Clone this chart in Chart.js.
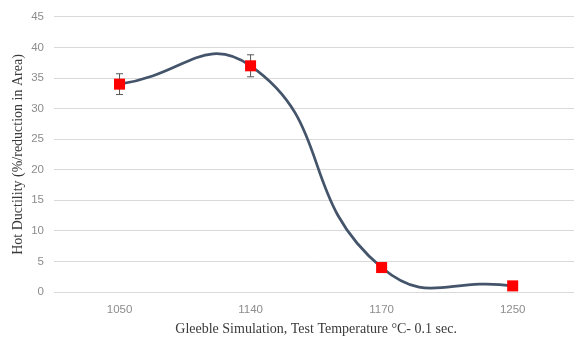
<!DOCTYPE html>
<html>
<head>
<meta charset="utf-8">
<script src="https://cdn.jsdelivr.net/npm/chart.js@4"></script>
<style>
    html, body { margin: 0; padding: 0; background: #fff; overflow: hidden; }
    #ductility-chart { display: block; }
</style>
</head>
<body>
<canvas id="ductility-chart" width="586" height="338"></canvas>
<script>
// values
const temperatures = ['1050', '1140', '1170', '1250'];
const ductility = [34, 37, 4, 1];
const errorBars = [1.7, 1.8, 0, 0];
const yTicks = [0, 5, 10, 15, 20, 25, 30, 35, 40, 45];

// small plugin: vertical error bars with caps, placed through the chart scales
const errorBarPlugin = {
    id: 'errorBars',
    beforeDatasetsDraw(chart) {
        const ctx = chart.ctx;
        const x = chart.scales.x;
        const y = chart.scales.y;
        ctx.save();
        ctx.strokeStyle = '#595959';
        ctx.lineWidth = 1;
        ductility.forEach((v, i) => {
            if (!errorBars[i]) return;
            const px = x.getPixelForValue(i);
            const top = y.getPixelForValue(v + errorBars[i]);
            const bottom = y.getPixelForValue(v - errorBars[i]);
            ctx.beginPath();
            ctx.moveTo(px, top);
            ctx.lineTo(px, bottom);
            ctx.moveTo(px - 3.5, top);
            ctx.lineTo(px + 3.5, top);
            ctx.moveTo(px - 3.5, bottom);
            ctx.lineTo(px + 3.5, bottom);
            ctx.stroke();
        });
        ctx.restore();
    }
};

const ctx = document.getElementById('ductility-chart').getContext('2d');
const ductilityChart = new Chart(ctx, {
    type: 'line',
    data: {
        labels: temperatures,
        datasets: [{
            label: 'Hot Ductility',
            data: ductility,
            borderColor: '#44546a',
            borderWidth: 2.75,
            tension: 0.5,
            capBezierPoints: false,
            fill: false,
            clip: false,
            pointStyle: 'rect',
            pointRadius: 7.8,
            pointBackgroundColor: '#ff0000',
            pointBorderColor: '#ff0000',
            pointBorderWidth: 0
        }]
    },
    options: {
        responsive: false,
        animation: false,
        layout: { padding: { top: 11, right: 1, left: 0, bottom: 0 } },
        plugins: {
            legend: { display: false },
            tooltip: { enabled: false }
        },
        scales: {
            x: {
                offset: true,
                border: { display: false },
                grid: { display: false, drawTicks: false },
                ticks: {
                    color: '#8c8c8c',
                    padding: 11,
                    font: { family: 'Liberation Sans', size: 11.5 }
                },
                title: {
                    display: true,
                    text: 'Gleeble Simulation, Test Temperature °C- 0.1 sec.',
                    color: '#3a3a3a',
                    font: { family: 'Liberation Serif', size: 14 },
                    padding: { top: 3, bottom: 0 }
                },
                afterFit(scale) { scale.height = 46; }
            },
            y: {
                min: 0,
                max: 45,
                afterBuildTicks(scale) { scale.ticks = yTicks.map(v => ({ value: v })); },
                border: { display: false },
                grid: { color: '#d9d9d9', lineWidth: 1, drawTicks: false },
                ticks: {
                    color: '#8c8c8c',
                    padding: 10,
                    font: { family: 'Liberation Sans', size: 11.5 }
                },
                title: {
                    display: true,
                    text: 'Hot Ductility (%/reduction in Area)',
                    color: '#3a3a3a',
                    font: { family: 'Liberation Serif', size: 14 },
                    padding: { top: 10, bottom: 0 }
                },
                afterFit(scale) { scale.width = 54; }
            }
        }
    },
    plugins: [errorBarPlugin]
});
</script>
</body>
</html>
